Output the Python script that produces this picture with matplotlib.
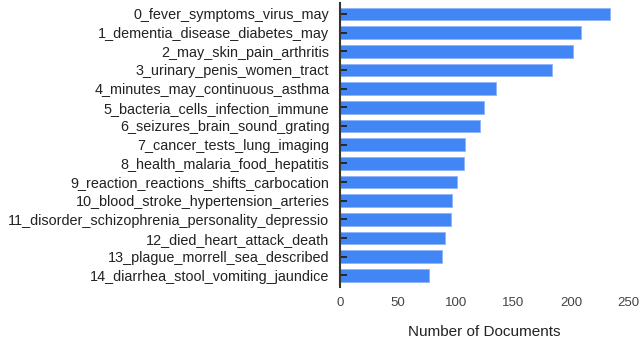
import matplotlib
matplotlib.use("Agg")
import matplotlib.pyplot as plt

# Topicos y numero de documentos
topics = [
    "0_fever_symptoms_virus_may",
    "1_dementia_disease_diabetes_may",
    "2_may_skin_pain_arthritis",
    "3_urinary_penis_women_tract",
    "4_minutes_may_continuous_asthma",
    "5_bacteria_cells_infection_immune",
    "6_seizures_brain_sound_grating",
    "7_cancer_tests_lung_imaging",
    "8_health_malaria_food_hepatitis",
    "9_reaction_reactions_shifts_carbocation",
    "10_blood_stroke_hypertension_arteries",
    "11_disorder_schizophrenia_personality_depressio",
    "12_died_heart_attack_death",
    "13_plague_morrell_sea_described",
    "14_diarrhea_stool_vomiting_jaundice",
]
counts = [234, 209, 202, 184, 135, 125, 121, 108, 107, 101, 97, 96, 91, 88, 77]
xticks = [0, 50, 100, 150, 200, 250]

plt.rcParams['font.family'] = ['Liberation Sans', 'DejaVu Sans']

fig = plt.figure(figsize=(6.4, 3.4), dpi=100)
ax = fig.add_axes([0.532, 0.156, 0.450, 0.835])

ax.barh(range(len(topics)), counts, height=0.68, color='#4285F4',
        edgecolor='#8fb4f7', linewidth=0.6, zorder=1)

ax.set_yticks(range(len(topics)))
ax.set_yticklabels(topics, fontsize=10.35, color='#222222')
ax.set_ylim(14.62, -0.58)
ax.set_xlim(0, 250)
ax.set_xticks(xticks)
ax.set_xticklabels([str(t) for t in xticks], fontsize=9.5, color='#444444')
ax.set_xlabel('Number of Documents', fontsize=11, color='#222222', labelpad=12)

ax.tick_params(axis='y', direction='in', length=5, width=1.3, color='#222222', pad=8)
ax.tick_params(axis='x', length=0, pad=7)
for s in ['top', 'right', 'bottom']:
    ax.spines[s].set_visible(False)
ax.spines['left'].set_color('#333333')
ax.spines['left'].set_linewidth(1.5)
ax.spines['left'].set_zorder(3)
for t in ax.yaxis.get_ticklines():
    t.set_zorder(4)

fig.savefig('out.png', dpi=100)
